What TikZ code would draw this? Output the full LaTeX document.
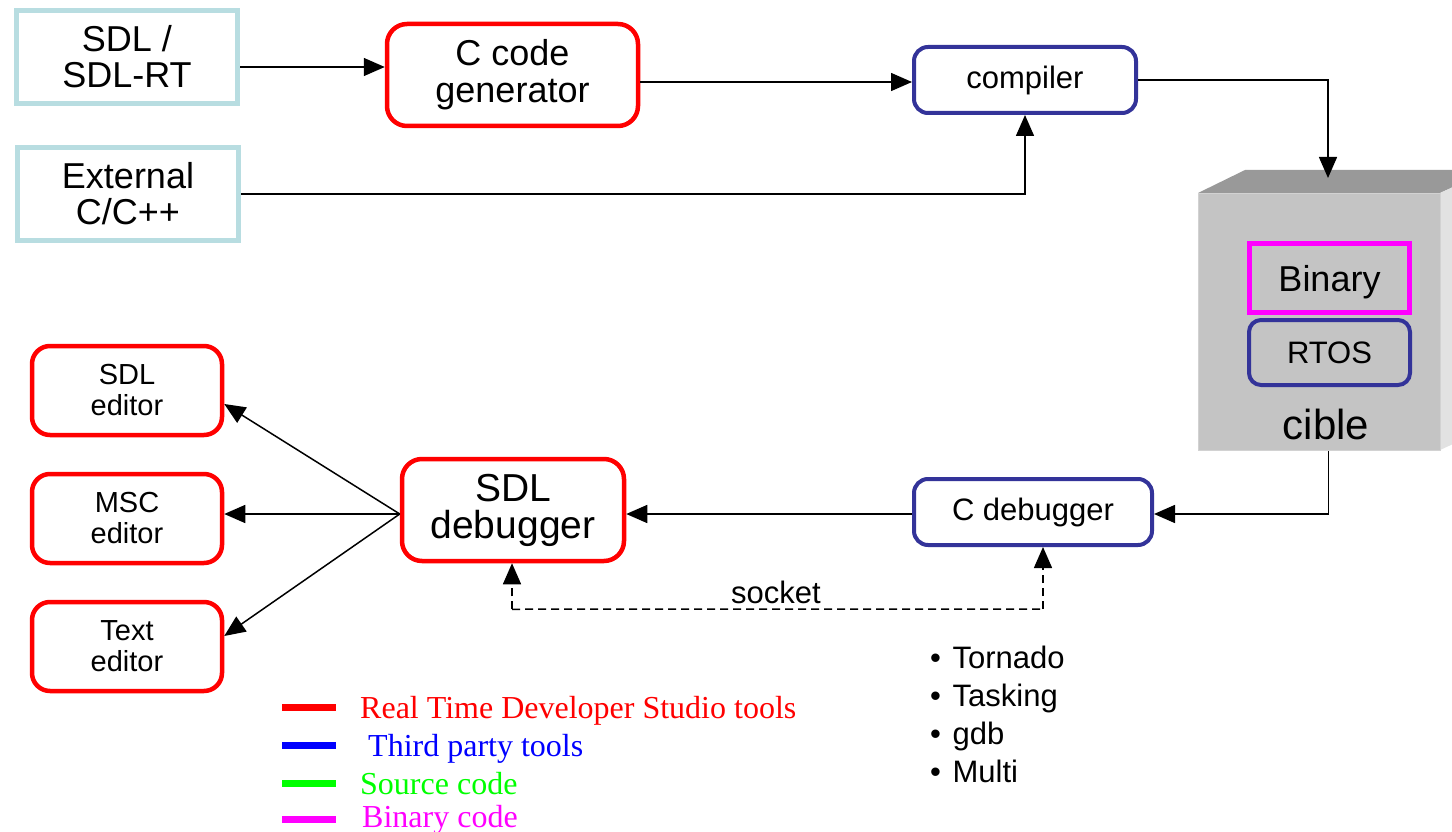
\documentclass[tikz,border=0pt]{standalone}
\usepackage{fontspec}
\setmainfont{Liberation Sans}
\newfontfamily\legendfont{Liberation Serif}
\usetikzlibrary{arrows.meta,calc}

\definecolor{srcblue}{HTML}{B8DDE1}
\definecolor{toolred}{HTML}{FF0000}
\definecolor{thirdblue}{HTML}{333399}
\definecolor{binmag}{HTML}{FF00FF}
\definecolor{legblue}{HTML}{0000FF}
\definecolor{leggreen}{HTML}{00FF00}
\definecolor{faceg}{HTML}{C4C4C4}
\definecolor{topg}{HTML}{999999}
\definecolor{sideg}{HTML}{E2E2E2}

\newcommand\fsz[2]{\fontsize{#1}{#2}\selectfont}

\begin{document}
\begin{tikzpicture}[x=1pt,y=-1pt,
  src/.style={draw=srcblue,line width=5pt,minimum width=221pt,minimum height=93pt,
    align=center,inner sep=0pt,font=\fsz{36}{36}},
  rtds/.style={draw=toolred,line width=4.5pt,rounded corners=20pt,align=center,inner sep=0pt},
  third/.style={draw=thirdblue,line width=4pt,rounded corners=14pt,align=center,
    inner sep=0pt,font=\fsz{31}{31}},
  editor/.style={rtds,rounded corners=18pt,minimum width=190pt,minimum height=89pt,font=\fsz{29}{31}},
  link/.style={line width=1.5pt,-{Triangle[length=21pt,width=18pt]}},
  sock/.style={line width=1.5pt,dash pattern=on 8pt off 5pt},
  legline/.style={line width=7pt},
  legtext/.style={anchor=base west,inner sep=0pt,font=\legendfont\fsz{32}{32}},
  ositem/.style={anchor=base west,inner sep=0pt,font=\fsz{31}{31}}]

\useasboundingbox[fill=white] (0,0) rectangle (1452,832);

% sources
\node[src] (sdl) at (127,57) {SDL /\\SDL-RT};
\node[src] (ext) at (128,194) {External\\C/C++};

% build chain
\node[rtds,minimum width=251pt,minimum height=102pt,font=\fsz{36}{37}] (cgen) at (512.5,75) {C code\\generator};
\node[third,minimum width=222pt,minimum height=66pt] (comp) at (1025,80) {compiler};

% target
\fill[topg] (1198,193) -- (1245,170) -- (1490,170) -- (1440,193) -- cycle;
\fill[sideg] (1440,193) -- (1490,170) -- (1490,427) -- (1440,450) -- cycle;
\node[fill=faceg,draw=gray!35,line width=1pt,minimum width=242pt,minimum height=257pt,
  inner sep=0pt,anchor=north west] (cible) at (1198,193) {};
\node[draw=binmag,line width=5pt,minimum width=160pt,minimum height=69pt,inner sep=0pt,
  text height=34pt,text depth=7.5pt,font=\fsz{36}{36}] (bin) at (1329.5,278) {Binary};
\node[third,rounded corners=12pt,minimum width=161pt,minimum height=65pt] (rtos) at (1329.5,352.5) {RTOS};
\node[inner sep=0pt,font=\fsz{42}{42}] (cibtxt) at (1326,424) {cible};
\coordinate (cibtop) at (1328,178);

% debugging side
\node[rtds,minimum width=222pt,minimum height=102pt,font=\fsz{39}{37}] (sdldbg) at (513,510) {SDL\\debugger};
\node[third,minimum width=238pt,minimum height=66pt] (cdbg) at (1033,512) {C debugger};
\node[editor] (sdled) at (127,390.5) {SDL\\editor};
\node[editor] (msced) at (127,518.5) {MSC\\editor};
\node[editor] (txted) at (127,646.5) {Text\\editor};

% connectors
\draw[link] ($(sdl.east)+(0,10)$) coordinate (a1) -- (a1 -| cgen.west);
\draw[link] ($(cgen.east |- comp.west)+(0,2)$) -- ($(comp.west)+(0,2)$);
\draw[link] (ext.east) -| (comp.south);
\draw[link] (comp.east) -| (cibtop);
\draw[link] ($(cible.south)+(9,0)$) |- ($(cdbg.east)+(0,2)$);
\draw[link] ($(cdbg.west)+(0,2)$) -- ($(sdldbg.east)+(0,4)$);
\coordinate (fan) at ($(sdldbg.west)+(0,4)$);
\draw[link] (fan) -- ($(sdled.east)+(0,13.5)$);
\draw[link] (fan) -- ($(msced.east)+(0,-4.5)$);
\draw[link] (fan) -- ($(txted.east)+(0,-10.5)$);

% socket link
\coordinate (s1) at ($(sdldbg.south)+(-1,46)$);
\coordinate (s2) at ($(cdbg.south)+(10,62)$);
\draw[sock] (s1) -- (s2);
\draw[link,sock] (s1) -- (s1 |- sdldbg.south);
\draw[link,sock] (s2) -- (s2 |- cdbg.south);
\node[inner sep=0pt,font=\fsz{31}{31}] (socklbl) at (776,592) {socket};

% supported debuggers
\node[ositem] (os1) at (930,668) {\textbullet\hspace{3pt} Tornado};
\node[ositem] (os2) at (930,706) {\textbullet\hspace{3pt} Tasking};
\node[ositem] (os3) at (930,744) {\textbullet\hspace{3pt} gdb};
\node[ositem] (os4) at (930,782) {\textbullet\hspace{3pt} Multi};

% legend
\draw[legline,toolred] (282,707) -- (336,707);
\draw[legline,legblue] (282,745) -- (336,745);
\draw[legline,leggreen] (282,783) -- (336,783);
\draw[legline,binmag] (282,819) -- (336,819);
\node[legtext,text=toolred] (lg1) at (360,718) {Real Time Developer Studio tools};
\node[legtext,text=legblue] (lg2) at (368,756) {Third party tools};
\node[legtext,text=leggreen] (lg3) at (360,794) {Source code};
\node[legtext,text=binmag] (lg4) at (362,827) {Binary code};
\end{tikzpicture}
\end{document}
